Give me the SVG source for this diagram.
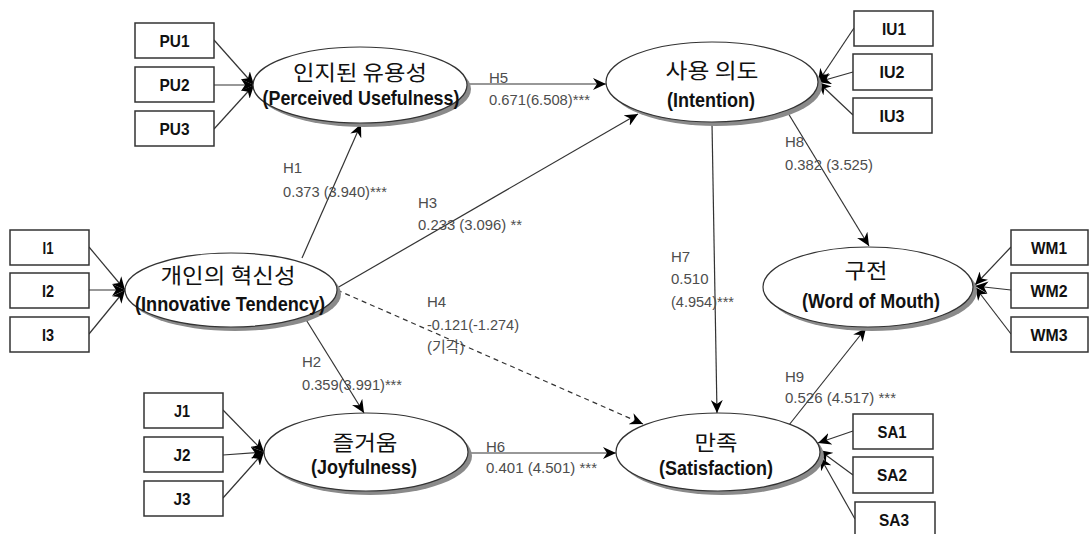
<svg xmlns="http://www.w3.org/2000/svg" width="1090" height="534" viewBox="0 0 1090 534">
<style>
.box{fill:#fff;stroke:#333;stroke-width:1.5}
.bl{font-family:"Liberation Sans",Arial,sans-serif;font-weight:bold;font-size:17px;text-anchor:middle;fill:#111}
.sh{fill:#8a8a8a}
.el{fill:#fff;stroke:#333;stroke-width:1.2}
.ko{font-family:"Noto Sans CJK KR","Noto Sans",sans-serif;font-size:21px;text-anchor:middle;fill:#111}
.en{font-family:"Liberation Sans",Arial,sans-serif;font-weight:bold;font-size:20px;text-anchor:middle;fill:#111}
.ln{stroke:#333;stroke-width:1.2;fill:none;marker-end:url(#ah)}
.ds{stroke-dasharray:5,4}
.lb{font-family:"Liberation Sans",Arial,sans-serif;font-size:15px;fill:#4d4d4d}
.lbk{font-family:"Liberation Sans","Noto Sans CJK KR",sans-serif;font-size:15px;fill:#4d4d4d}
</style>
<defs>
<marker id="ah" markerUnits="userSpaceOnUse" markerWidth="14" markerHeight="12" refX="13" refY="6" orient="auto">
<path d="M0,0 L13,6 L0,12 L4,6 z" fill="#000"/>
</marker>
</defs>
<rect width="1090" height="534" fill="#fff"/>

<g id="connectors">
<path class="ln" d="M214,40 L254,85"/>
<path class="ln" d="M214,85 L254,85"/>
<path class="ln" d="M214,129 L254,85"/>
<path class="ln" d="M89,247 L125,290"/>
<path class="ln" d="M89,290 L125,290"/>
<path class="ln" d="M89,334 L125,290"/>
<path class="ln" d="M223,410 L264,452"/>
<path class="ln" d="M223,455 L264,452"/>
<path class="ln" d="M223,498 L264,452"/>
<path class="ln" d="M854,28 L818,82"/>
<path class="ln" d="M853,72 L818,82"/>
<path class="ln" d="M853,115 L818,82"/>
<path class="ln" d="M1011,247 L975,285"/>
<path class="ln" d="M1011,290 L975,286"/>
<path class="ln" d="M1011,334 L975,287"/>
<path class="ln" d="M853,431 L818,443"/>
<path class="ln" d="M853,475 L819,450"/>
<path class="ln" d="M855,519 L820,457"/>
<path class="ln" d="M302,258 L361,124"/>
<path class="ln" d="M305,318 L364,413"/>
<path class="ln" d="M337,288 L638,114"/>
<path class="ln ds" d="M337,290 L643,424"/>
<path class="ln" d="M467,84 L606,84"/>
<path class="ln" d="M468,453 L616,453"/>
<path class="ln" d="M712,123 L717,413"/>
<path class="ln" d="M788,113 L869,246"/>
<path class="ln" d="M789,425 L866,328"/>
</g>

<g id="PU1"><rect class="box" x="135" y="23" width="79" height="35"/><text class="bl" x="174.5" y="47" textLength="30" lengthAdjust="spacingAndGlyphs">PU1</text></g>
<g id="PU2"><rect class="box" x="135" y="67" width="79" height="35"/><text class="bl" x="174.5" y="91" textLength="30" lengthAdjust="spacingAndGlyphs">PU2</text></g>
<g id="PU3"><rect class="box" x="135" y="111" width="79" height="35"/><text class="bl" x="174.5" y="135" textLength="30" lengthAdjust="spacingAndGlyphs">PU3</text></g>
<g id="I1"><rect class="box" x="10" y="230" width="79" height="35"/><text class="bl" x="48" y="254" textLength="11" lengthAdjust="spacingAndGlyphs">I1</text></g>
<g id="I2"><rect class="box" x="10" y="273" width="79" height="35"/><text class="bl" x="48" y="297" textLength="12" lengthAdjust="spacingAndGlyphs">I2</text></g>
<g id="I3"><rect class="box" x="10" y="317" width="79" height="35"/><text class="bl" x="48" y="341" textLength="12" lengthAdjust="spacingAndGlyphs">I3</text></g>
<g id="J1"><rect class="box" x="144" y="393" width="79" height="35"/><text class="bl" x="182" y="417" textLength="16" lengthAdjust="spacingAndGlyphs">J1</text></g>
<g id="J2"><rect class="box" x="144" y="437" width="79" height="35"/><text class="bl" x="182" y="461" textLength="17" lengthAdjust="spacingAndGlyphs">J2</text></g>
<g id="J3"><rect class="box" x="144" y="481" width="79" height="35"/><text class="bl" x="182" y="505" textLength="17" lengthAdjust="spacingAndGlyphs">J3</text></g>
<g id="IU1"><rect class="box" x="854" y="11" width="79" height="35"/><text class="bl" x="894" y="35" textLength="24" lengthAdjust="spacingAndGlyphs">IU1</text></g>
<g id="IU2"><rect class="box" x="853" y="54" width="79" height="36"/><text class="bl" x="892" y="78" textLength="25" lengthAdjust="spacingAndGlyphs">IU2</text></g>
<g id="IU3"><rect class="box" x="853" y="98" width="79" height="35"/><text class="bl" x="892" y="122" textLength="25" lengthAdjust="spacingAndGlyphs">IU3</text></g>
<g id="WM1"><rect class="box" x="1011" y="230" width="77" height="35"/><text class="bl" x="1049" y="254" textLength="36" lengthAdjust="spacingAndGlyphs">WM1</text></g>
<g id="WM2"><rect class="box" x="1011" y="273" width="77" height="35"/><text class="bl" x="1049" y="297" textLength="37" lengthAdjust="spacingAndGlyphs">WM2</text></g>
<g id="WM3"><rect class="box" x="1011" y="317" width="77" height="35"/><text class="bl" x="1049" y="341" textLength="37" lengthAdjust="spacingAndGlyphs">WM3</text></g>
<g id="SA1"><rect class="box" x="853" y="414" width="80" height="35"/><text class="bl" x="892" y="438" textLength="29" lengthAdjust="spacingAndGlyphs">SA1</text></g>
<g id="SA2"><rect class="box" x="853" y="457" width="80" height="36"/><text class="bl" x="892" y="481" textLength="30" lengthAdjust="spacingAndGlyphs">SA2</text></g>
<g id="SA3"><rect class="box" x="855" y="502" width="80" height="36"/><text class="bl" x="894" y="526" textLength="30" lengthAdjust="spacingAndGlyphs">SA3</text></g>

<g id="PU">
<ellipse class="sh" cx="364" cy="89" rx="107" ry="38"/>
<ellipse class="el" cx="360" cy="85" rx="107" ry="38"/>
<text class="ko" x="360" y="80" textLength="134" lengthAdjust="spacingAndGlyphs">인지된 유용성</text>
<text class="en" x="361" y="105" textLength="197" lengthAdjust="spacingAndGlyphs">(Perceived Usefulness)</text>
</g>
<g id="IT">
<ellipse class="sh" cx="235" cy="294" rx="106" ry="37"/>
<ellipse class="el" cx="231" cy="290" rx="106" ry="37"/>
<text class="ko" x="228" y="283" textLength="135" lengthAdjust="spacingAndGlyphs">개인의 혁신성</text>
<text class="en" x="230" y="311" textLength="190" lengthAdjust="spacingAndGlyphs">(Innovative Tendency)</text>
</g>
<g id="JOY">
<ellipse class="sh" cx="370" cy="456" rx="102" ry="39"/>
<ellipse class="el" cx="366" cy="452" rx="102" ry="39"/>
<text class="ko" x="365" y="450" textLength="65" lengthAdjust="spacingAndGlyphs">즐거움</text>
<text class="en" x="364" y="474" textLength="106" lengthAdjust="spacingAndGlyphs">(Joyfulness)</text>
</g>
<g id="INT">
<ellipse class="sh" cx="716" cy="86" rx="106" ry="40"/>
<ellipse class="el" cx="712" cy="82" rx="106" ry="40"/>
<text class="ko" x="712" y="78" textLength="93" lengthAdjust="spacingAndGlyphs">사용 의도</text>
<text class="en" x="711" y="107" textLength="88" lengthAdjust="spacingAndGlyphs">(Intention)</text>
</g>
<g id="WOM">
<ellipse class="sh" cx="872" cy="291" rx="105" ry="40"/>
<ellipse class="el" cx="868" cy="287" rx="105" ry="40"/>
<text class="ko" x="866" y="278" textLength="43" lengthAdjust="spacingAndGlyphs">구전</text>
<text class="en" x="871" y="308" textLength="138" lengthAdjust="spacingAndGlyphs">(Word of Mouth)</text>
</g>
<g id="SAT">
<ellipse class="sh" cx="722" cy="456" rx="102" ry="39"/>
<ellipse class="el" cx="718" cy="452" rx="102" ry="39"/>
<text class="ko" x="716" y="450" textLength="43" lengthAdjust="spacingAndGlyphs">만족</text>
<text class="en" x="716" y="475" textLength="114" lengthAdjust="spacingAndGlyphs">(Satisfaction)</text>
</g>

<g id="labels">
<text class="lb" x="283" y="173">H1</text>
<text class="lb" x="283" y="197" textLength="104" lengthAdjust="spacingAndGlyphs">0.373 (3.940)***</text>
<text class="lb" x="302" y="367">H2</text>
<text class="lb" x="302" y="390" textLength="100" lengthAdjust="spacingAndGlyphs">0.359(3.991)***</text>
<text class="lb" x="418" y="208">H3</text>
<text class="lb" x="418" y="230" textLength="104" lengthAdjust="spacingAndGlyphs">0.233 (3.096) **</text>
<text class="lb" x="427" y="307">H4</text>
<text class="lb" x="427" y="330" textLength="92" lengthAdjust="spacingAndGlyphs">-0.121(-1.274)</text>
<text class="lbk" x="427" y="352">(기각)</text>
<text class="lb" x="489" y="83">H5</text>
<text class="lb" x="489" y="105" textLength="101" lengthAdjust="spacingAndGlyphs">0.671(6.508)***</text>
<text class="lb" x="486" y="452">H6</text>
<text class="lb" x="486" y="473" textLength="111" lengthAdjust="spacingAndGlyphs">0.401 (4.501) ***</text>
<text class="lb" x="671" y="262">H7</text>
<text class="lb" x="671" y="284">0.510</text>
<text class="lb" x="671" y="307" textLength="63" lengthAdjust="spacingAndGlyphs">(4.954)***</text>
<text class="lb" x="785" y="147">H8</text>
<text class="lb" x="785" y="170" textLength="88" lengthAdjust="spacingAndGlyphs">0.382 (3.525)</text>
<text class="lb" x="785" y="382">H9</text>
<text class="lb" x="785" y="403" textLength="111" lengthAdjust="spacingAndGlyphs">0.526 (4.517) ***</text>
</g>
</svg>
